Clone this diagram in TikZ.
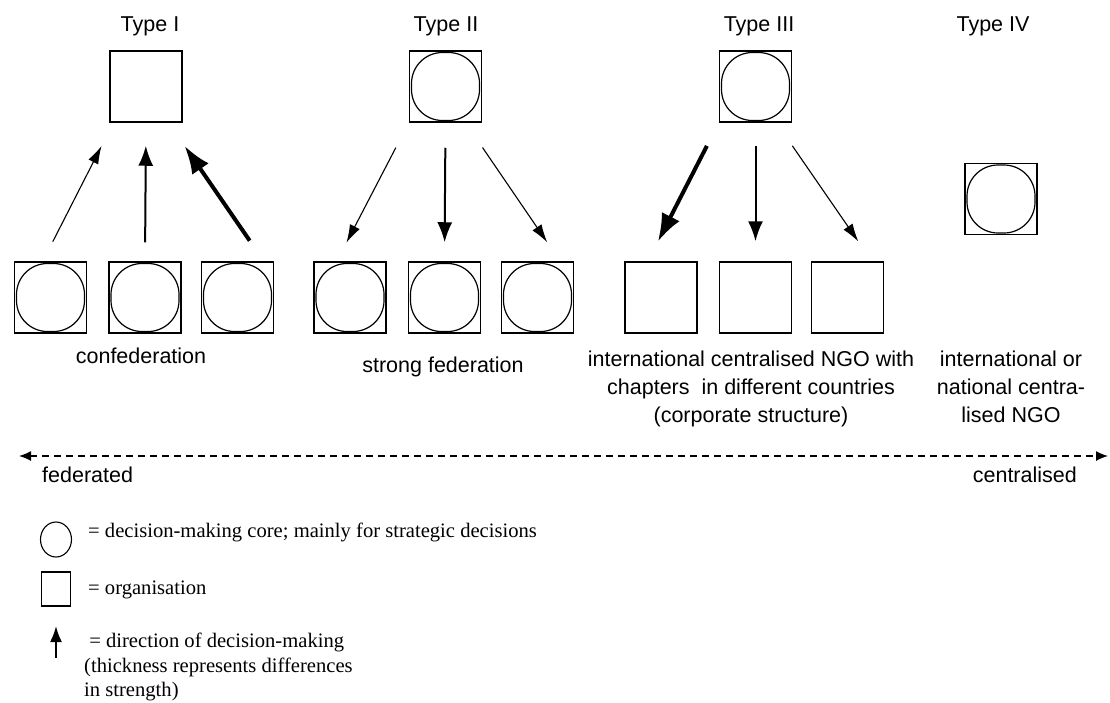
\documentclass[tikz,border=0pt]{standalone}
\usepackage{fontspec}
\setmainfont{Liberation Sans}
\newfontfamily\legendfont{Liberation Serif}
\usetikzlibrary{arrows.meta,calc,shapes.geometric}

\tikzset{
	org/.style={draw, line width=1.5pt, minimum width=72pt, minimum height=71pt, inner sep=0pt},
	core/.style={org, path picture={\draw[line width=1.2pt, rounded corners=31pt]
		([shift={(2pt,1.5pt)}]path picture bounding box.south west) rectangle
		([shift={(-2pt,-1.5pt)}]path picture bounding box.north east);}},
	caption/.style={inner sep=0pt, font=\fontsize{21.5}{28}\selectfont},
	legend/.style={inner sep=0pt, font=\legendfont\fontsize{20.6}{24.5}\selectfont},
	weak/.style={line width=1.1pt, -{Latex[length=18pt,width=11pt]}},
	medium/.style={line width=2pt, -{Latex[length=20pt,width=15pt]}},
	strong/.style={line width=4pt, -{Latex[length=28pt,width=20pt]}},
	scale axis/.style={line width=1.3pt, dash pattern=on 7pt off 5pt,
		{Latex[length=12pt,width=10pt]}-{Latex[length=12pt,width=10pt]}}
}

\begin{document}
\begin{tikzpicture}[x=1pt, y=-1pt]
		
		\useasboundingbox (0,0) rectangle (1110,702);
		
		\node[caption, anchor=base] (ty1) at (150,31) {Type I};
		\node[caption, anchor=base] (ty2) at (446,31) {Type II};
		\node[caption, anchor=base] (ty3) at (759,31) {Type III};
		\node[caption, anchor=base] (ty4) at (993,31) {Type IV};
		
		\node[org] (t1) at (146,86.5) {};
		\node[core] (t2) at (445.5,86.5) {};
		\node[core] (t3) at (755.5,86.5) {};
		\node[core] (t4) at (1001,199) {};
		
		\node[core] (b1) at (50.5,297.5) {};
		\node[core] (b2) at (145,297.5) {};
		\node[core] (b3) at (237.5,297.5) {};
		\node[core] (b4) at (350,297.5) {};
		\node[core] (b5) at (444.5,297.5) {};
		\node[core] (b6) at (537.5,297.5) {};
		\node[org] (b7) at (661,297.5) {};
		\node[org] (b8) at (755.5,297.5) {};
		\node[org] (b9) at (847.5,297.5) {};
		
		\draw[weak, shorten <=22pt, shorten >=26pt] (b1.102) -- (t1.-132);
		\draw[medium, shorten <=19pt, shorten >=23pt] (b2.north) -- (t1.south);
		\draw[strong, shorten <=25pt, shorten >=28pt] (b3.54) -- (t1.-58);
		
		\draw[weak, shorten <=28pt, shorten >=21pt] (t2.south west) -- (b4.110);
		\draw[medium, shorten <=25pt, shorten >=19pt] (t2.south) -- (b5.north);
		\draw[weak, shorten <=30pt, shorten >=23pt] (t2.-61) -- (b6.58);
		
		\draw[strong, shorten <=26pt, shorten >=22pt] (t3.south west) -- (b7.110);
		\draw[medium, shorten <=23pt, shorten >=20pt] (t3.south) -- (b8.north);
		\draw[weak, shorten <=28pt, shorten >=24pt] (t3.-60) -- (b9.56);
		
		\node[caption, anchor=base] (c1) at (141,363) {confederation};
		\node[caption, anchor=base] (c2) at (443,372) {strong federation};
		\node[caption, align=center, anchor=north] (c3) at (751,351) {international centralised NGO with\\chapters~ in different countries\\(corporate structure)};
		\node[caption, align=center, anchor=north] (c4) at (1011,351) {international or\\national centra-\\lised NGO};
		
		\coordinate (fedend) at (19,456);
		\coordinate (cenend) at (1108,456);
		\draw[scale axis] (fedend) -- (cenend);
		\node[caption, anchor=base west] (fed) at (42,482) {federated};
		\node[caption, anchor=base east] (cen) at (1077,482) {centralised};
		
		\node[draw, ellipse, line width=1.1pt, minimum width=31pt, minimum height=35pt, inner sep=0pt] (keycore) at (56,539.5) {};
		\node[draw, line width=1.3pt, minimum width=29pt, minimum height=34pt, inner sep=0pt] (keyorg) at (56,589) {};
		\coordinate (keyarr) at (56,658);
		\draw[line width=2pt, -{Latex[length=16pt,width=12pt]}] (keyarr) -- ++(0,-32);
		
		\node[legend, anchor=base west] (key1) at (88,537) {= decision-making core; mainly for strategic decisions};
		\node[legend, anchor=base west] (key2) at (88,594) {= organisation};
		\node[legend, align=left, anchor=north west] (key3) at (84,633) {\ = direction of decision-making\\(thickness represents differences\\in strength)};
		
		\end{tikzpicture}
\end{document}
